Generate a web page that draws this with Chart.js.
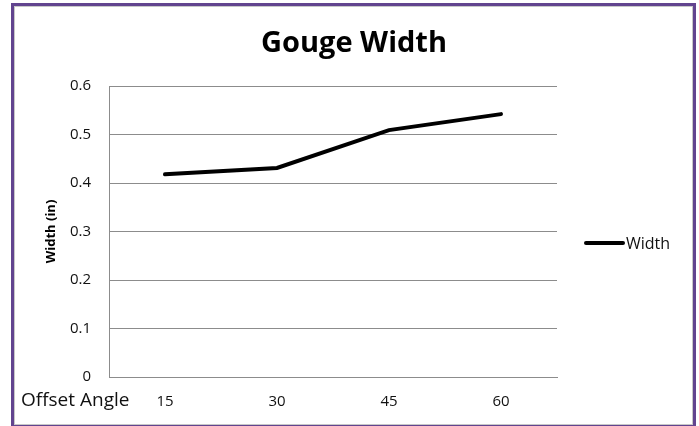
<!DOCTYPE html>
<html>
<head>
<meta charset="utf-8">
<script src="https://cdn.jsdelivr.net/npm/chart.js@4/dist/chart.umd.min.js"></script>
<style>
    html, body { margin: 0; padding: 0; background: #fff; }
    #wrap { position: relative; width: 699px; height: 426px; overflow: hidden; }
    #frame {
        position: absolute; left: 11px; top: 3px; width: 679px; height: 419px;
        border: 3px solid #62448f; box-shadow: inset 0 0 0 1px #c8c8c8;
        pointer-events: none;
    }
</style>
</head>
<body>
<div id="wrap">
    <canvas id="chart" width="699" height="426"></canvas>
    <div id="frame"></div>
</div>
<script>
const angles = ['15', '30', '45', '60'];
const widths = [0.418, 0.431, 0.509, 0.542];
const seriesName = 'Width';
const chartTitle = 'Gouge Width';
const yTitle = 'Width (in)';
const xTitle = 'Offset Angle';

const font = "'Open Sans', 'Liberation Sans', sans-serif";

// title, legend and x title drawn by hand, Excel style
const extras = {
    id: 'extras',
    afterDraw(chart) {
        const ctx = chart.ctx;
        const ds = chart.data.datasets[0];
        ctx.save();
        ctx.fillStyle = '#000';
        ctx.textAlign = 'center';
        ctx.textBaseline = 'middle';
        ctx.font = 'bold 29px ' + font;
        ctx.fillText(chartTitle, 354, 44);

        ctx.strokeStyle = ds.borderColor;
        ctx.lineWidth = 4;
        ctx.lineCap = 'round';
        ctx.beginPath();
        ctx.moveTo(586, 243);
        ctx.lineTo(623, 243);
        ctx.stroke();
        ctx.fillStyle = '#111';
        ctx.textAlign = 'left';
        ctx.font = '16px ' + font;
        ctx.fillText(ds.label, 626, 244);
        ctx.font = '19px ' + font;
        ctx.fillText(xTitle, 21, 401);
        ctx.restore();
    }
};

new Chart(document.getElementById('chart'), {
    type: 'line',
    data: {
        labels: angles,
        datasets: [{
            label: seriesName,
            data: widths,
            borderColor: '#000',
            borderWidth: 4,
            borderCapStyle: 'round',
            pointRadius: 0,
            tension: 0
        }]
    },
    options: {
        responsive: false,
        animation: false,
        layout: { padding: { left: 40, right: 142, top: 86, bottom: 0 } },
        plugins: {
            legend: { display: false },
            tooltip: { enabled: false },
            title: { display: false }
        },
        scales: {
            x: {
                offset: true,
                grid: { display: false, drawTicks: false },
                border: { color: '#8c8c8c', width: 1 },
                ticks: { color: '#111', padding: 16, font: { family: font, size: 15 } },
                afterFit(scale) { scale.height = 49; }
            },
            y: {
                min: 0,
                max: 0.6,
                ticks: {
                    stepSize: 0.1,
                    color: '#111',
                    padding: 18,
                    font: { family: font, size: 15 },
                    callback: v => Math.round(v * 10) / 10
                },
                grid: { color: '#8c8c8c', drawTicks: false },
                border: { color: '#8c8c8c', width: 1 },
                title: {
                    display: true,
                    text: yTitle,
                    color: '#000',
                    font: { family: font, size: 13, weight: 'bold' },
                    padding: { top: 3, bottom: 0 }
                },
                afterFit(scale) { scale.width = 69; }
            }
        }
    },
    plugins: [extras]
});
</script>
</body>
</html>
